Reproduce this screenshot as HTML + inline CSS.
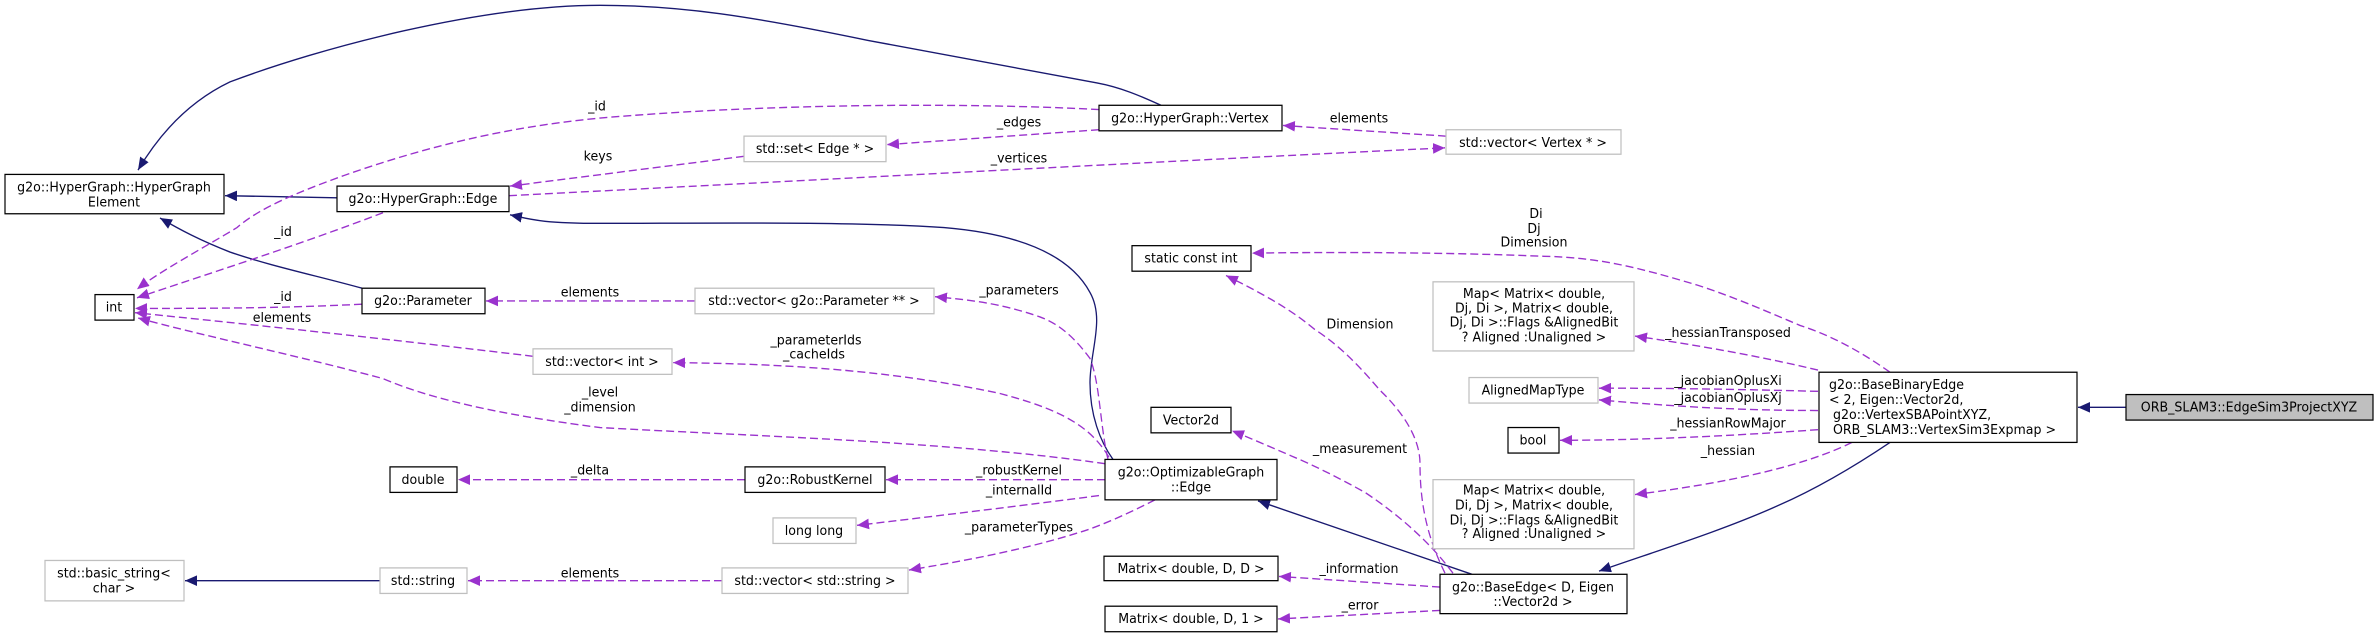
<!DOCTYPE html>
<html><head><meta charset="utf-8"><style>
html,body{margin:0;padding:0;background:#fff;}
svg{display:block;}
text{font-family:"DejaVu Sans","Liberation Sans",sans-serif;font-size:12.6px;fill:#000;}
.n{fill:#fff;stroke:#000;stroke-width:1.2;}
.g{fill:#fff;stroke:#bfbfbf;stroke-width:1.2;}
.s{fill:none;stroke:#191970;stroke-width:1.3;}
.d{fill:none;stroke:#9a32cd;stroke-width:1.3;stroke-dasharray:8,4;}
</style></head><body>
<svg width="2379" height="638" viewBox="0 0 2379 638" xmlns="http://www.w3.org/2000/svg">
<defs>
<marker id="an" markerUnits="userSpaceOnUse" markerWidth="14" markerHeight="12" refX="12" refY="5" orient="auto"><path d="M0,0 L12,5 L0,10 z" fill="#191970"/></marker>
<marker id="ap" markerUnits="userSpaceOnUse" markerWidth="14" markerHeight="12" refX="12" refY="5" orient="auto"><path d="M0,0 L12,5 L0,10 z" fill="#9a32cd"/></marker>
</defs>
<g transform="scale(1,1.0635)">
<!-- solid inheritance edges -->
<path class="s" marker-end="url(#an)" d="M1161,99 C1140,90 1120,82 1097,78 L868,38 C750,15 680,5 600,5 C480,5 320,45 230,77 C190,95 160,125 138,160"/>
<path class="s" marker-end="url(#an)" d="M337,186 L225,184"/>
<path class="s" marker-end="url(#an)" d="M362,271 C320,260 270,250 230,237 C200,226 180,216 160,205"/>
<path class="s" marker-end="url(#an)" d="M1113,432 C1100,415 1090,390 1090,360 C1090,330 1105,300 1090,275 C1070,240 1020,220 944,214 C850,208 700,210 600,210 C540,210 530,206 510,202"/>
<path class="s" marker-end="url(#an)" d="M380,546 L185,546"/>
<path class="s" marker-end="url(#an)" d="M1472,540 L1258,471"/>
<path class="s" marker-end="url(#an)" d="M1890,416 C1860,435 1820,458 1779,475 C1720,500 1650,520 1599,537"/>
<path class="s" marker-end="url(#an)" d="M2126,383 L2078,383"/>
<!-- dashed usage edges -->
<path class="d" marker-end="url(#ap)" d="M1099,103 C1000,98 800,95 600,111 C500,120 420,140 344,165 C300,180 260,195 237,214 C200,235 160,255 137,272"/>
<path class="d" marker-end="url(#ap)" d="M1099,122 L887,136"/>
<path class="d" marker-end="url(#ap)" d="M509,184 C800,170 1200,150 1445,139"/>
<path class="d" marker-end="url(#ap)" d="M1446,128 L1283,118"/>
<path class="d" marker-end="url(#ap)" d="M744,147 L510,175"/>
<path class="d" marker-end="url(#ap)" d="M383,200 C300,230 200,260 137,280"/>
<path class="d" marker-end="url(#ap)" d="M362,286 C280,290 200,290 135,290"/>
<path class="d" marker-end="url(#ap)" d="M695,283 L486,283"/>
<path class="d" marker-end="url(#ap)" d="M533,335 C400,320 250,305 135,294"/>
<path class="d" marker-end="url(#ap)" d="M1105,436 C950,415 750,410 600,402 C500,390 430,375 383,356 C300,335 200,315 138,299"/>
<path class="d" marker-end="url(#ap)" d="M1109,430 C1090,400 1060,385 1000,370 C900,350 800,342 673,341"/>
<path class="d" marker-end="url(#ap)" d="M1108,432 C1100,400 1100,360 1090,337 C1075,318 1060,305 1040,298 C1000,285 970,282 935,279"/>
<path class="d" marker-end="url(#ap)" d="M1105,451 L886,451"/>
<path class="d" marker-end="url(#ap)" d="M1099,466 C1000,478 920,487 857,494"/>
<path class="d" marker-end="url(#ap)" d="M1155,470 C1130,482 1100,495 1078,501 C1020,518 960,528 909,536"/>
<path class="d" marker-end="url(#ap)" d="M745,451 L458,451"/>
<path class="d" marker-end="url(#ap)" d="M722,546 L468,546"/>
<path class="d" marker-end="url(#ap)" d="M1890,350 C1860,330 1830,315 1800,306 C1760,290 1730,278 1697,268 C1640,252 1600,242 1544,241 C1440,237 1330,237 1252,238"/>
<path class="d" marker-end="url(#ap)" d="M1445,539 C1430,510 1420,480 1420,436 C1420,410 1400,385 1380,367 C1360,345 1340,325 1315,310 C1290,290 1260,275 1226,259"/>
<path class="d" marker-end="url(#ap)" d="M1453,539 C1430,510 1400,485 1365,463 C1340,450 1315,438 1292,429 C1270,420 1250,412 1232,405"/>
<path class="d" marker-end="url(#ap)" d="M1440,552 L1279,542"/>
<path class="d" marker-end="url(#ap)" d="M1440,574 L1278,582"/>
<path class="d" marker-end="url(#ap)" d="M1818,348 C1760,335 1700,325 1635,316"/>
<path class="d" marker-end="url(#ap)" d="M1818,368 C1740,366 1670,365 1599,365"/>
<path class="d" marker-end="url(#ap)" d="M1818,386 C1740,386 1670,382 1599,376"/>
<path class="d" marker-end="url(#ap)" d="M1818,404 C1730,410 1640,414 1560,414"/>
<path class="d" marker-end="url(#ap)" d="M1852,416 C1800,440 1720,455 1635,465"/>
<!-- edge labels -->
<g text-anchor="middle">
<text x="597" y="104">_id</text>
<text x="1019" y="119">_edges</text>
<text x="1019" y="153">_vertices</text>
<text x="1359" y="115">elements</text>
<text x="598" y="151">keys</text>
<text x="283" y="222">_id</text>
<text x="283" y="283">_id</text>
<text x="590" y="279">elements</text>
<text x="282" y="303">elements</text>
<text x="600" y="373">_level</text>
<text x="600" y="387">_dimension</text>
<text x="816" y="324">_parameterIds</text>
<text x="814" y="337">_cacheIds</text>
<text x="1019" y="277">_parameters</text>
<text x="1019" y="446">_robustKernel</text>
<text x="1019" y="465">_internalId</text>
<text x="1019" y="500">_parameterTypes</text>
<text x="590" y="446">_delta</text>
<text x="590" y="543">elements</text>
<text x="1536" y="205">Di</text>
<text x="1534" y="219">Dj</text>
<text x="1534" y="232">Dimension</text>
<text x="1360" y="309">Dimension</text>
<text x="1360" y="426">_measurement</text>
<text x="1359" y="539">_information</text>
<text x="1360" y="573">_error</text>
<text x="1728" y="317">_hessianTransposed</text>
<text x="1728" y="362">_jacobianOplusXi</text>
<text x="1728" y="378">_jacobianOplusXj</text>
<text x="1728" y="402">_hessianRowMajor</text>
<text x="1728" y="428">_hessian</text>
</g>
<!-- nodes -->
<rect class="n" x="5" y="164" width="219" height="37"/>
<rect class="n" x="337" y="175" width="172" height="24"/>
<rect class="n" x="95" y="277" width="39" height="24"/>
<rect class="n" x="362" y="271" width="123" height="24"/>
<rect class="n" x="390" y="439" width="67" height="24"/>
<rect class="g" x="45" y="527" width="139" height="38"/>
<rect class="g" x="380" y="534" width="87" height="24"/>
<rect class="g" x="533" y="328" width="139" height="24"/>
<rect class="n" x="1099" y="99" width="183" height="24"/>
<rect class="g" x="744" y="128" width="142" height="24"/>
<rect class="g" x="695" y="271" width="239" height="24"/>
<rect class="n" x="745" y="439" width="140" height="24"/>
<rect class="g" x="773" y="487" width="83" height="24"/>
<rect class="g" x="722" y="534" width="186" height="24"/>
<rect class="n" x="1105" y="432" width="172" height="38"/>
<rect class="n" x="1132" y="231" width="119" height="24"/>
<rect class="n" x="1151" y="383" width="80" height="24"/>
<rect class="n" x="1104" y="523" width="174" height="23"/>
<rect class="n" x="1105" y="570" width="172" height="24"/>
<rect class="g" x="1446" y="122" width="175" height="23"/>
<rect class="g" x="1433" y="265" width="201" height="65"/>
<rect class="g" x="1469" y="355" width="129" height="24"/>
<rect class="n" x="1508" y="402" width="51" height="24"/>
<rect class="g" x="1433" y="451" width="201" height="65"/>
<rect class="n" x="1440" y="540" width="187" height="37"/>
<rect class="n" x="1819" y="350" width="258" height="66"/>
<rect x="2126" y="371" width="247" height="24" fill="#bfbfbf" stroke="#000" stroke-width="1.2"/>
<g text-anchor="middle">
<text x="114" y="180">g2o::HyperGraph::HyperGraph</text>
<text x="114" y="194">Element</text>
<text x="423" y="191">g2o::HyperGraph::Edge</text>
<text x="114" y="293">int</text>
<text x="423" y="287">g2o::Parameter</text>
<text x="423" y="455">double</text>
<text x="114" y="543">std::basic_string&lt;</text>
<text x="114" y="557">char &gt;</text>
<text x="423" y="550">std::string</text>
<text x="602" y="344">std::vector&lt; int &gt;</text>
<text x="1190" y="115">g2o::HyperGraph::Vertex</text>
<text x="815" y="144">std::set&lt; Edge * &gt;</text>
<text x="814" y="287">std::vector&lt; g2o::Parameter ** &gt;</text>
<text x="815" y="455">g2o::RobustKernel</text>
<text x="814" y="503">long long</text>
<text x="815" y="550">std::vector&lt; std::string &gt;</text>
<text x="1191" y="448">g2o::OptimizableGraph</text>
<text x="1191" y="462">::Edge</text>
<text x="1191" y="247">static const int</text>
<text x="1191" y="399">Vector2d</text>
<text x="1191" y="539">Matrix&lt; double, D, D &gt;</text>
<text x="1191" y="586">Matrix&lt; double, D, 1 &gt;</text>
<text x="1533" y="138">std::vector&lt; Vertex * &gt;</text>
<text x="1534" y="280">Map&lt; Matrix&lt; double,</text>
<text x="1534" y="294"> Dj, Di &gt;, Matrix&lt; double,</text>
<text x="1534" y="307"> Dj, Di &gt;::Flags &amp;AlignedBit</text>
<text x="1534" y="321"> ? Aligned :Unaligned &gt;</text>
<text x="1533" y="371">AlignedMapType</text>
<text x="1533" y="418">bool</text>
<text x="1534" y="465">Map&lt; Matrix&lt; double,</text>
<text x="1534" y="479"> Di, Dj &gt;, Matrix&lt; double,</text>
<text x="1534" y="493"> Di, Dj &gt;::Flags &amp;AlignedBit</text>
<text x="1534" y="506"> ? Aligned :Unaligned &gt;</text>
<text x="1533" y="556">g2o::BaseEdge&lt; D, Eigen</text>
<text x="1533" y="570">::Vector2d &gt;</text>
<text x="2249" y="387">ORB_SLAM3::EdgeSim3ProjectXYZ</text>
</g>
<text x="1829" y="366">g2o::BaseBinaryEdge</text>
<text x="1829" y="380">&lt; 2, Eigen::Vector2d,</text>
<text x="1833" y="394">g2o::VertexSBAPointXYZ,</text>
<text x="1833" y="408">ORB_SLAM3::VertexSim3Expmap &gt;</text>
</g>
</svg>
</body></html>
